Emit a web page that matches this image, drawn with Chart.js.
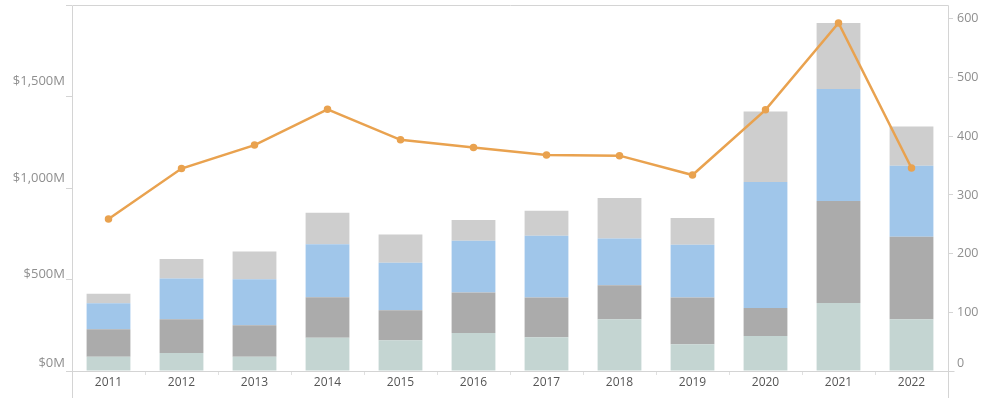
<!DOCTYPE html>
<html>
<head>
<meta charset="utf-8">
<script src="https://cdn.jsdelivr.net/npm/chart.js@4/dist/chart.umd.min.js"></script>
<style>
  html, body { margin: 0; padding: 0; background: #fff; }
  #wrap { width: 1005px; height: 398px; position: relative; }
</style>
</head>
<body>
<div id="wrap"><canvas id="c" width="1005" height="398"></canvas></div>
<script>
const years = ['2011','2012','2013','2014','2015','2016','2017','2018','2019','2020','2021','2022'];
// Stacked amounts in $M, bottom to top
const seriesA = [74, 93, 74, 172, 160, 197, 175, 268, 139, 182, 352, 268];
const seriesB = [143, 175, 163, 210, 155, 210, 206, 177, 242, 144, 529, 428];
const seriesC = [134, 211, 239, 275, 246, 268, 320, 242, 273, 653, 581, 368];
const seriesD = [50, 101, 143, 163, 146, 108, 129, 210, 139, 366, 342, 203];
// Count line (right axis)
const countLine = [259, 345, 385, 446, 394, 381, 368, 367, 334, 445, 593, 346];
const leftTicks = [0, 500, 1000, 1500];
const rightTicks = [0, 100, 200, 300, 400, 500, 600];

const FRAME = '#d4d4d4';
const FONT = '"Open Sans", "DejaVu Sans", sans-serif';

const framePlugin = {
  id: 'frame',
  afterDraw(chart) {
    const ctx = chart.ctx, a = chart.chartArea;
    ctx.save();
    ctx.strokeStyle = FRAME;
    ctx.lineWidth = 1;
    ctx.beginPath();
    const l = Math.round(a.left) + 0.5, r = Math.round(a.right) + 0.5;
    const t = Math.round(a.top) + 0.5, b = Math.round(a.bottom) + 0.5;
    ctx.moveTo(l, t); ctx.lineTo(r, t);
    ctx.moveTo(l, t); ctx.lineTo(l, chart.height);
    ctx.moveTo(r, t); ctx.lineTo(r, chart.height);
    ctx.moveTo(l - 6, b); ctx.lineTo(r + 6, b);
    ctx.stroke();
    // tick labels (0 labels lifted above the baseline like the original)
    ctx.font = '13px ' + FONT;
    ctx.fillStyle = '#8f8f8f';
    ctx.textBaseline = 'middle';
    const ys = chart.scales.y, y1 = chart.scales.y1;
    ctx.textAlign = 'right';
    leftTicks.forEach(v => {
      let py = ys.getPixelForValue(v);
      if (v === 0) py -= 8;
      ctx.fillText('$' + v.toLocaleString('en-US') + 'M', a.left - 7, py);
    });
    ctx.font = '12.5px ' + FONT;
    ctx.textAlign = 'left';
    rightTicks.forEach(v => {
      let py = y1.getPixelForValue(v);
      if (v === 0) py -= 8;
      ctx.fillText(String(v), a.right + 9, py);
    });
    ctx.restore();
  }
};

const barBase = { type: 'bar', yAxisID: 'y', order: 2, categoryPercentage: 1, barPercentage: 0.6, borderWidth: 0 };

new Chart(document.getElementById('c'), {
  data: {
    labels: years,
    datasets: [
      { type: 'line', label: 'Count', data: countLine, yAxisID: 'y1', order: 0,
        borderColor: '#e9a24f', backgroundColor: '#e9a24f', borderWidth: 2.5,
        pointRadius: 2.5, pointHoverRadius: 2.5, tension: 0, stack: 'line' },
      Object.assign({ label: 'A', data: seriesA, backgroundColor: '#c4d5d2', stack: 's' }, barBase),
      Object.assign({ label: 'B', data: seriesB, backgroundColor: '#ababab', stack: 's' }, barBase),
      Object.assign({ label: 'C', data: seriesC, backgroundColor: '#a0c6ea', stack: 's' }, barBase),
      Object.assign({ label: 'D', data: seriesD, backgroundColor: '#cecece', stack: 's' }, barBase)
    ]
  },
  options: {
    responsive: false,
    animation: false,
    layout: { padding: { top: 3, left: 0, right: 0, bottom: 0 } },
    plugins: { legend: { display: false }, tooltip: { enabled: false } },
    scales: {
      x: {
        stacked: true,
        offset: true,
        grid: { display: true, offset: true, drawOnChartArea: false, tickLength: 4, color: '#e0e0e0' },
        border: { display: false },
        ticks: { color: '#555', font: { family: FONT, size: 12 }, padding: 0, maxRotation: 0 },
        afterFit(s) { s.height = 27; }
      },
      y: {
        position: 'left', stacked: true, min: 0, max: 1897,
        grid: { display: true, drawOnChartArea: false, tickLength: 6, color: FRAME },
        border: { display: false },
        ticks: { stepSize: 500, includeBounds: false, display: false },
        afterFit(s) { s.width = 72; }
      },
      y1: {
        position: 'right', stacked: false, min: 0, max: 623.7,
        grid: { display: true, drawOnChartArea: false, tickLength: 5, color: FRAME },
        border: { display: false },
        ticks: { stepSize: 100, includeBounds: false, display: false },
        afterFit(s) { s.width = 57; }
      }
    }
  },
  plugins: [framePlugin]
});
</script>
</body>
</html>
